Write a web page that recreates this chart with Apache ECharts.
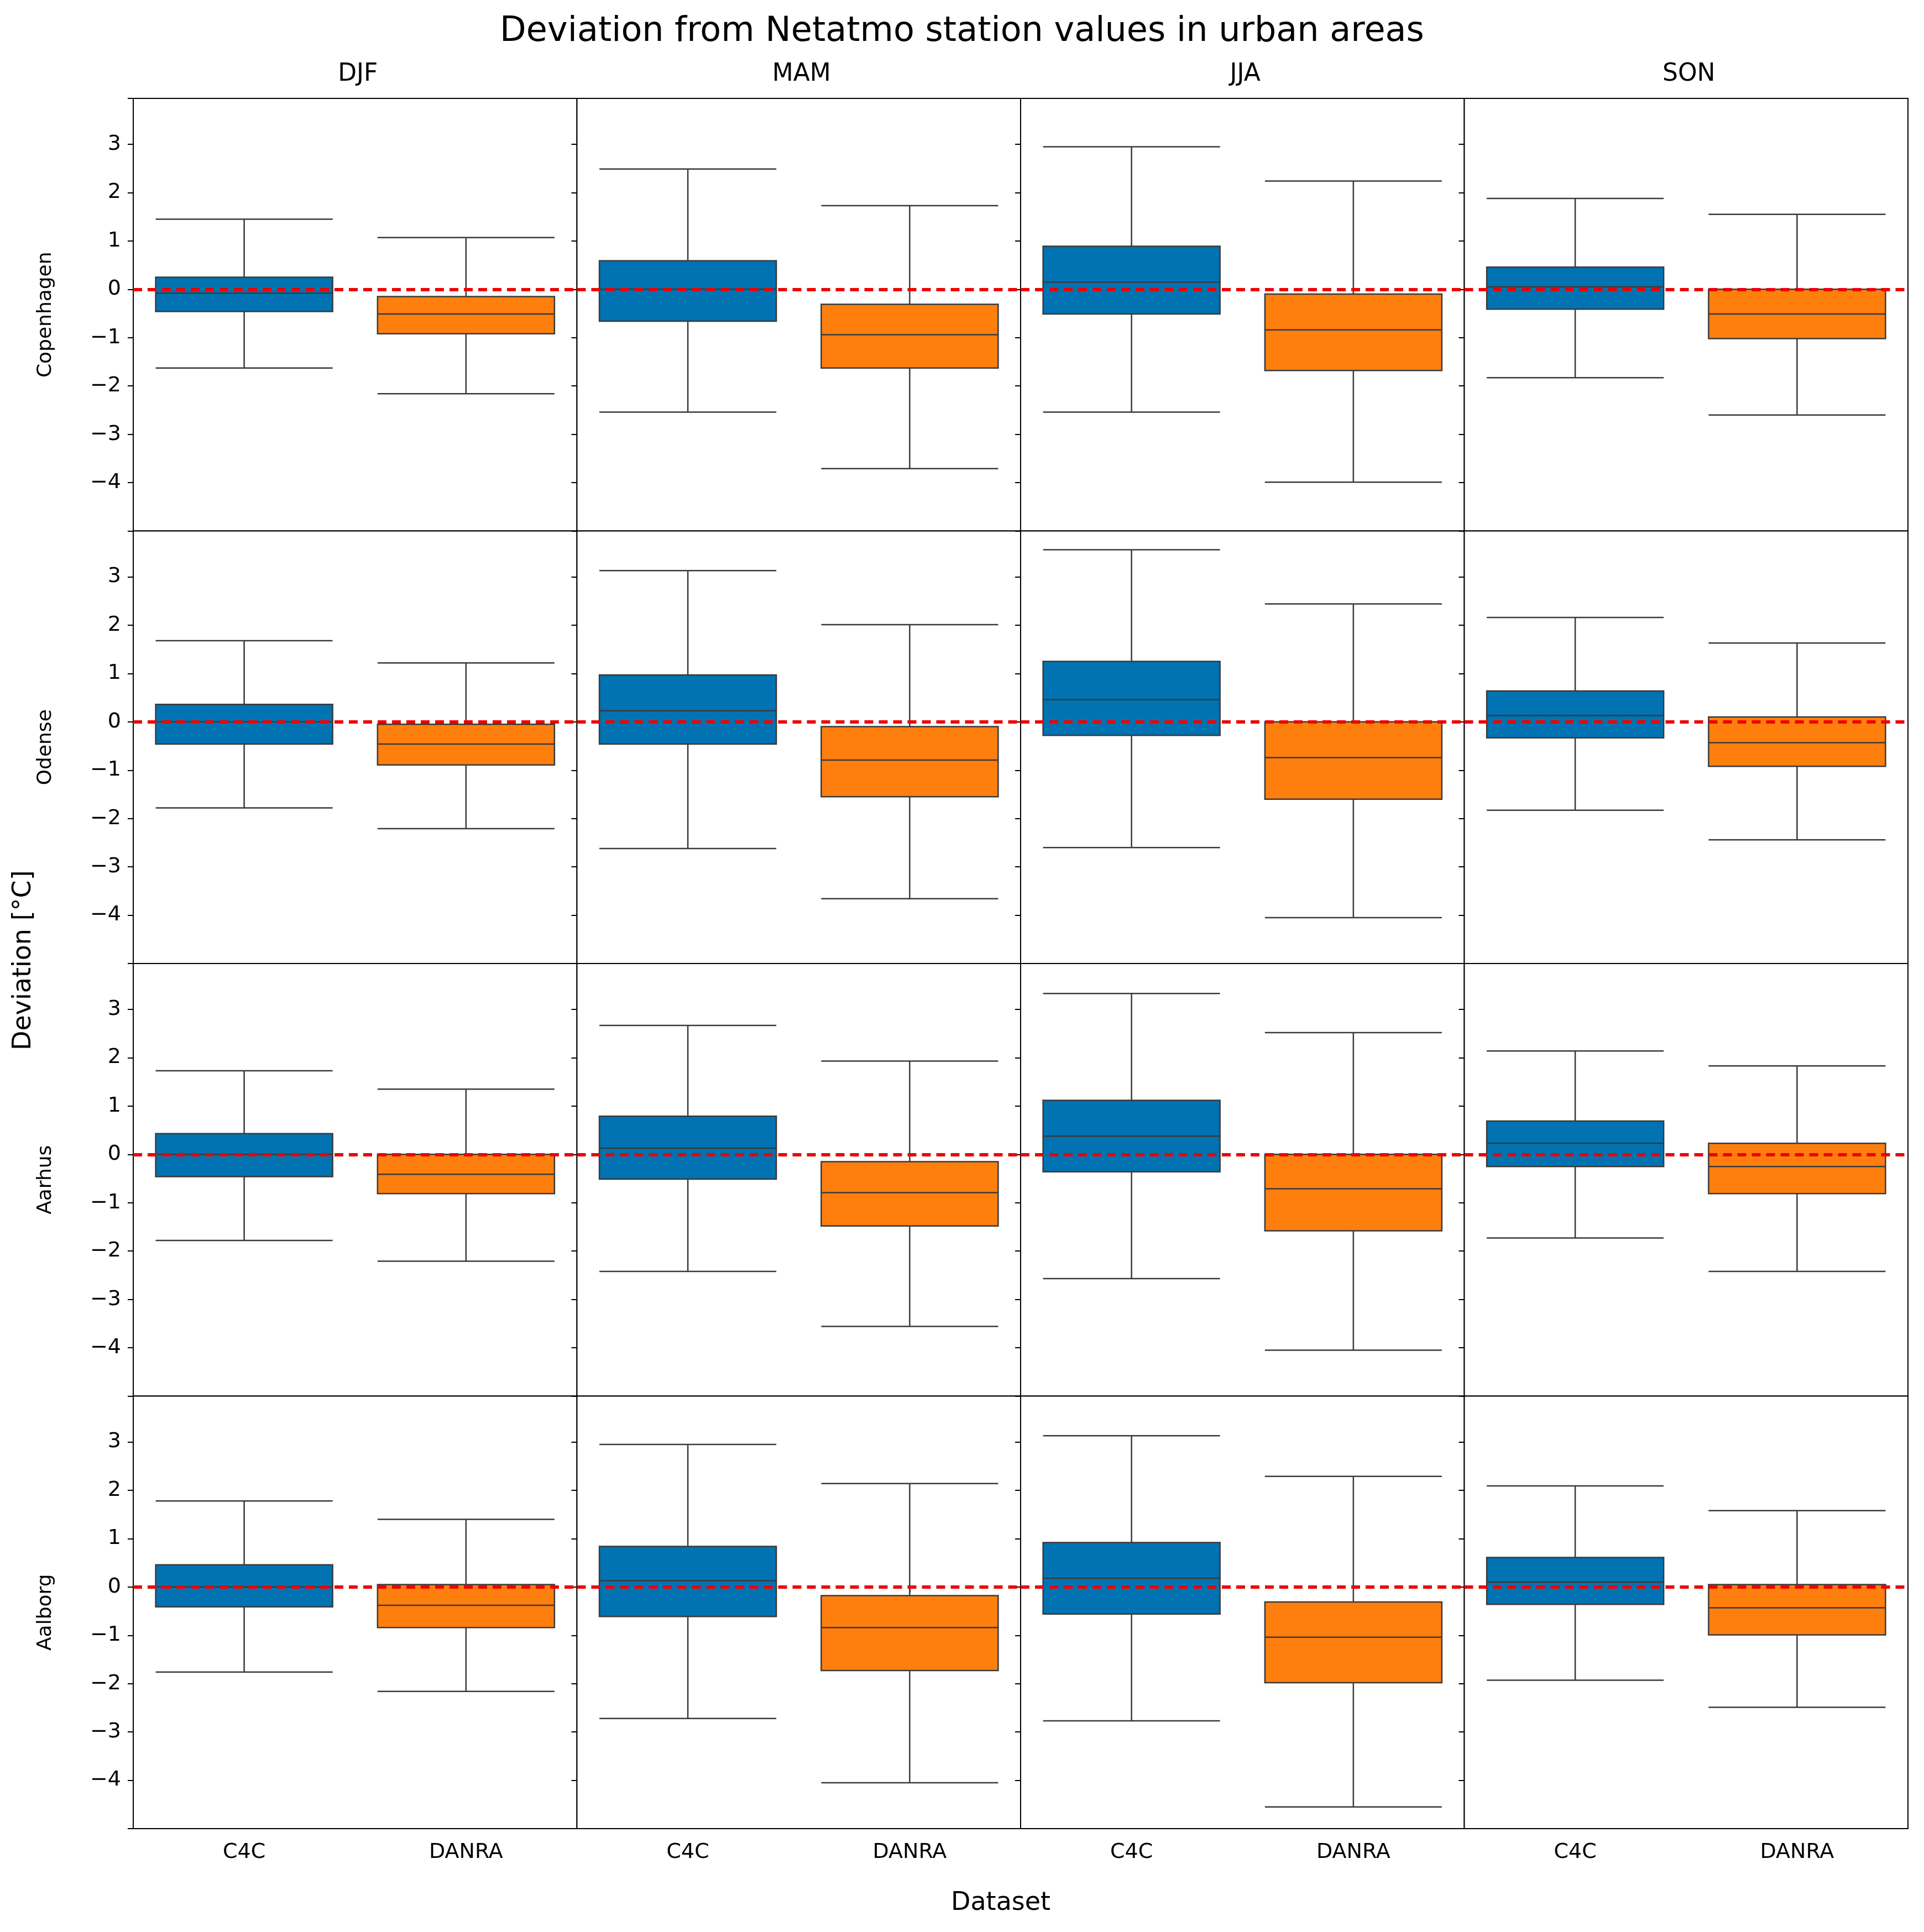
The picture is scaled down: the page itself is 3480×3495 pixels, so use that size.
<!DOCTYPE html>
<html lang="en">
<head>
<meta charset="UTF-8">
<title>Deviation from Netatmo station values</title>
<script src="https://cdn.jsdelivr.net/npm/echarts@6/dist/echarts.min.js"></script>
<style>html,body{margin:0;background:#fff}</style>
</head>
<body>
<div id="main" style="width:3480px;height:3495px;"></div>
<script>
var seasons = ['DJF', 'MAM', 'JJA', 'SON'];
var cities = ['Copenhagen', 'Odense', 'Aarhus', 'Aalborg'];
var datasets = ['C4C', 'DANRA'];
var yTicks = [-4, -3, -2, -1, 0, 1, 2, 3];

// [min, Q1, median, Q3, max] per city -> season -> dataset
var copenhagen = [
    [[-1.63, -0.46, -0.08, 0.25, 1.45], [-2.16, -0.92, -0.51, -0.15, 1.07]],
    [[-2.54, -0.66, 0.00, 0.59, 2.49], [-3.71, -1.63, -0.94, -0.31, 1.73]],
    [[-2.54, -0.51, 0.15, 0.89, 2.95], [-3.99, -1.68, -0.84, -0.10, 2.24]],
    [[-1.83, -0.41, 0.05, 0.46, 1.88], [-2.60, -1.02, -0.51, 0.00, 1.55]]
];
var odense = [
    [[-1.78, -0.46, 0.00, 0.36, 1.68], [-2.21, -0.89, -0.46, -0.05, 1.22]],
    [[-2.62, -0.46, 0.23, 0.97, 3.13], [-3.66, -1.55, -0.79, -0.10, 2.01]],
    [[-2.60, -0.28, 0.46, 1.25, 3.56], [-4.05, -1.60, -0.74, 0.00, 2.44]],
    [[-1.83, -0.33, 0.13, 0.64, 2.16], [-2.44, -0.92, -0.43, 0.10, 1.63]]
];
var aarhus = [
    [[-1.78, -0.46, 0.00, 0.43, 1.73], [-2.21, -0.81, -0.41, 0.00, 1.35]],
    [[-2.42, -0.51, 0.13, 0.79, 2.67], [-3.56, -1.48, -0.79, -0.15, 1.93]],
    [[-2.57, -0.36, 0.38, 1.12, 3.33], [-4.05, -1.58, -0.71, 0.00, 2.52]],
    [[-1.73, -0.25, 0.23, 0.69, 2.14], [-2.42, -0.81, -0.25, 0.23, 1.83]]
];
var aalborg = [
    [[-1.76, -0.41, 0.00, 0.46, 1.78], [-2.16, -0.84, -0.38, 0.05, 1.40]],
    [[-2.72, -0.61, 0.13, 0.84, 2.95], [-4.05, -1.73, -0.84, -0.18, 2.14]],
    [[-2.77, -0.56, 0.18, 0.92, 3.13], [-4.55, -1.98, -1.04, -0.31, 2.29]],
    [[-1.93, -0.36, 0.10, 0.61, 2.09], [-2.49, -0.99, -0.43, 0.05, 1.58]]
];
var cityData = [copenhagen, odense, aarhus, aalborg];
var colors = ['#0173b2', '#ff7f0e'];

var L = 241, T = 178, W = 802.5, H = 782.5;
var font = 'DejaVu Sans';
var grids = [], xAxes = [], yAxes = [], series = [];
var titles = [{
    text: 'Deviation from Netatmo station values in urban areas',
    left: 'center', top: 22,
    textStyle: {fontFamily: font, fontSize: 62, fontWeight: 'normal', color: '#000'}
}];

for (var c = 0; c < 4; c++) {
    titles.push({
        text: seasons[c], left: L + c * W + W / 2, top: 108, textAlign: 'center',
        textStyle: {fontFamily: font, fontSize: 44, fontWeight: 'normal', color: '#000'}
    });
}

for (var r = 0; r < 4; r++) {
    for (var c = 0; c < 4; c++) {
        var i = r * 4 + c;
        grids.push({left: L + c * W, top: T + r * H, width: W, height: H,
            show: true, borderColor: '#000', borderWidth: 2, backgroundColor: '#fff'});
        xAxes.push({
            type: 'category', gridIndex: i, data: datasets,
            axisLine: {show: false},
            axisTick: {show: r === 3, alignWithLabel: true, length: 10, lineStyle: {color: '#000', width: 2}},
            axisLabel: {show: r === 3, fontFamily: font, fontSize: 38, color: '#000', margin: 24},
            splitLine: {show: false}
        });
        yAxes.push({
            type: 'value', gridIndex: i, min: -5, max: 3.95, interval: 1,
            name: c === 0 ? cities[r] : '', nameLocation: 'middle', nameGap: 140,
            nameTextStyle: {fontFamily: font, fontSize: 36, color: '#000'},
            axisLine: {show: false},
            axisTick: {show: true, length: 10, lineStyle: {color: '#000', width: 2}},
            axisLabel: {show: c === 0, fontFamily: font, fontSize: 38, color: '#000', margin: 22,
                formatter: function (v) { return yTicks.indexOf(v) >= 0 ? String(v).replace('-', '\u2212') : ''; }},
            splitLine: {show: false}
        });
        var d = cityData[r][c];
        series.push({
            type: 'boxplot', xAxisIndex: i, yAxisIndex: i,
            boxWidth: [320, 320],
            data: [
                {value: d[0], itemStyle: {color: colors[0], borderColor: '#3a3a3a', borderWidth: 2.5}},
                {value: d[1], itemStyle: {color: colors[1], borderColor: '#3a3a3a', borderWidth: 2.5}}
            ],
            markLine: {
                silent: true, symbol: ['none', 'none'], label: {show: false},
                lineStyle: {color: '#ee0000', type: [16, 10], width: 6},
                data: [{yAxis: 0}]
            },
            z: 3
        });
    }
}

var chart = echarts.init(document.getElementById('main'));
chart.setOption({
    animation: false,
    backgroundColor: '#fff',
    title: titles,
    grid: grids,
    xAxis: xAxes,
    yAxis: yAxes,
    series: series,
    graphic: [
        {type: 'text', left: 1720, top: 3420,
            style: {text: 'Dataset', fontFamily: font, fontSize: 46, fill: '#000'}},
        {type: 'text', x: 20, y: 1900, rotation: Math.PI / 2,
            style: {text: 'Deviation [°C]', fontFamily: font, fontSize: 46, fill: '#000'}}
    ]
});
</script>
</body>
</html>
